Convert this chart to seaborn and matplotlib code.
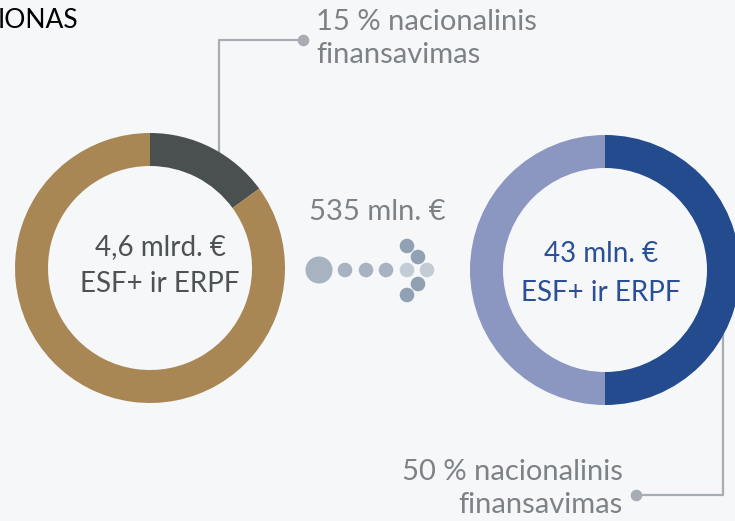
import matplotlib.pyplot as plt
import seaborn as sns
import pandas as pd

# shares for each donut (first slice drawn clockwise from 12 o'clock)
left_labels = ['Nacionalinis', 'ESF+ ir ERPF']
left_shares = [15, 85]
left_colors = ['#4a504f', '#a88755']
right_labels = ['ESF+ ir ERPF', 'Nacionalinis']
right_shares = [50, 50]
right_colors = ['#234b8e', '#8b97c0']

left_center_text = ['4,6 mlrd. €', 'ESF+ ir ERPF']
right_center_text = ['43 mln. €', 'ESF+ ir ERPF']
flow_text = '535 mln. €'
top_note = ['15 % nacionalinis', 'finansavimas']
bottom_note = ['50 % nacionalinis', 'finansavimas']
title_text = 'IONAS'

# arrow made of dots (pixel positions, y measured from top)
arrow_x = [319, 345, 366, 386, 407, 427, 407, 418, 418, 407]
arrow_y = [270, 270, 270, 270, 270, 270, 246, 257, 284, 295]
arrow_size = [13, 7, 7, 7, 7, 7, 7, 7, 7, 7]
arrow_tone = ['mid', 'mid', 'mid', 'mid', 'light', 'light', 'dark', 'dark', 'dark', 'dark']

W, H = 735, 521
def Y(y):
    return H - y

sns.set_theme(style="white")
plt.rcParams['font.family'] = ['Lato', 'DejaVu Sans']
bg = '#f6f7f9'

fig = plt.figure(figsize=(7.35, 5.21), dpi=100, facecolor=bg)
ax = fig.add_axes([0, 0, 1, 1])
ax.set_facecolor(bg)

# connector lines (under the donuts)
line_col = '#a8adb3'
ax.plot([303, 219, 219], [Y(40), Y(40), Y(170)], color=line_col, lw=1.6, zorder=1)
ax.scatter([303], [Y(40)], s=70, color=line_col, zorder=2, linewidths=0)
ax.plot([636, 723, 723], [Y(495), Y(495), Y(320)], color=line_col, lw=1.6, zorder=1)
ax.scatter([636], [Y(495)], s=70, color=line_col, zorder=2, linewidths=0)

R, ring = 135, 33
for shares, cols, cx, cy in [(left_shares, left_colors, 150, 268),
                             (right_shares, right_colors, 605, 270)]:
    wedges, _ = ax.pie(shares, colors=cols, center=(cx, Y(cy)), radius=R,
                       startangle=90, counterclock=False,
                       wedgeprops=dict(width=ring, linewidth=0))
    for w in wedges:
        w.set_zorder(3)

# arrow dots
tones = {'mid': '#a7b3c1', 'light': '#c3ccd5', 'dark': '#8fa1b2'}
dots = pd.DataFrame({'x': arrow_x, 'y': [Y(v) for v in arrow_y],
                     'r': arrow_size, 'tone': arrow_tone})
for tone, grp in dots.groupby('tone'):
    sns.scatterplot(data=grp, x='x', y='y', s=[(2 * r * 0.75) ** 2 for r in grp['r']],
                    color=tones[tone], linewidth=0, ax=ax, zorder=4, legend=False)

fs = 20
grey = '#4d5352'
ax.text(160, Y(247), left_center_text[0], ha='center', va='center', fontsize=fs, color=grey)
ax.text(160, Y(284), left_center_text[1], ha='center', va='center', fontsize=fs, color=grey)
blue = '#2a4f96'
ax.text(601, Y(254), right_center_text[0], ha='center', va='center', fontsize=fs, color=blue)
ax.text(601, Y(293), right_center_text[1], ha='center', va='center', fontsize=fs, color=blue)

note_col = '#7d8287'
nfs = 21
ax.text(377, Y(212), flow_text, ha='center', va='center', fontsize=nfs, color=note_col)
ax.text(316, Y(22), top_note[0], ha='left', va='center', fontsize=nfs, color=note_col)
ax.text(316, Y(55), top_note[1], ha='left', va='center', fontsize=nfs, color=note_col)
ax.text(623, Y(472), bottom_note[0], ha='right', va='center', fontsize=nfs, color=note_col)
ax.text(623, Y(505), bottom_note[1], ha='right', va='center', fontsize=nfs, color=note_col)

ax.text(-2, Y(20), title_text, ha='left', va='center', fontsize=19, color='black')

ax.set_xlim(0, W)
ax.set_ylim(0, H)
ax.set_aspect('auto')
ax.axis('off')

plt.savefig('out.png', dpi=100, facecolor=bg)
